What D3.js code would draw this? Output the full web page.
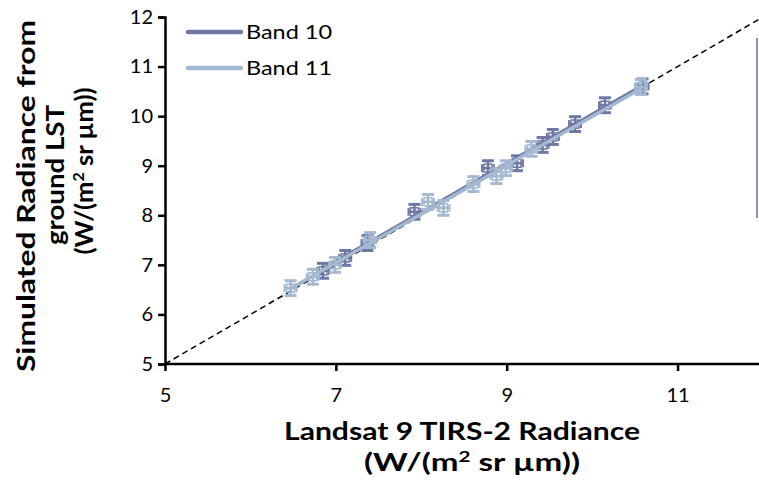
<!DOCTYPE html>
<html>
<head>
<meta charset="utf-8">
<script src="https://cdn.jsdelivr.net/npm/d3@7"></script>
<style>
  body { margin: 0; background: #fff; }
  text { font-family: Lato, "Open Sans", sans-serif; fill: #000; }
</style>
</head>
<body>
<div id="chart"></div>
<script>
// data
const band10X = [6.85, 7.11, 7.37, 7.92, 8.78, 9.12, 9.42, 9.54, 9.80, 10.15, 10.59];
const band10Y = [6.88, 7.14, 7.44, 8.07, 8.95, 9.05, 9.42, 9.58, 9.84, 10.22, 10.60];
const band11X = [6.47, 6.73, 6.99, 7.40, 8.08, 8.26, 8.61, 8.88, 8.99, 9.29, 10.57];
const band11Y = [6.53, 6.76, 7.00, 7.50, 8.27, 8.15, 8.63, 8.79, 8.95, 9.34, 10.59];
const errY = 0.15, errX = 0.07;
const xTicks = [5, 7, 9, 11];
const yTicks = [5, 6, 7, 8, 9, 10, 11, 12];
const seriesNames = ["Band 10", "Band 11"];
const seriesColors = ["#6f78a4", "#a3b8d1"];

const width = 759, height = 489;
const margin = { top: 17, right: -4, bottom: 125, left: 165 };

const svg = d3.select("#chart").append("svg")
    .attr("width", width)
    .attr("height", height);

const x = d3.scaleLinear().domain([5, 12]).range([margin.left, width - margin.right]);
const y = d3.scaleLinear().domain([5, 12]).range([height - margin.bottom, margin.top]);

// 1:1 line
svg.append("line")
    .attr("x1", x(5)).attr("y1", y(5))
    .attr("x2", x(12)).attr("y2", y(12))
    .attr("stroke", "#000")
    .attr("stroke-width", 1.5)
    .attr("stroke-dasharray", "6,4");

// stray bar at the right edge
svg.append("line")
    .attr("x1", 757).attr("x2", 757)
    .attr("y1", 38).attr("y2", 218)
    .attr("stroke", "#8a91bd")
    .attr("stroke-width", 2);

const series = [
    { name: seriesNames[0], color: seriesColors[0], pts: band10X.map((v, i) => [v, band10Y[i]]) },
    { name: seriesNames[1], color: seriesColors[1], pts: band11X.map((v, i) => [v, band11Y[i]]) }
];

// least squares fit
function fit(pts) {
    const mx = d3.mean(pts, d => d[0]), my = d3.mean(pts, d => d[1]);
    const b = d3.sum(pts, d => (d[0] - mx) * (d[1] - my)) / d3.sum(pts, d => (d[0] - mx) ** 2);
    return v => my + b * (v - mx);
}

series.forEach(s => {
    const g = svg.append("g");
    const pts = g.selectAll("g.pt").data(s.pts).enter().append("g").attr("class", "pt");

    // vertical error bars
    pts.append("line")
        .attr("x1", d => x(d[0])).attr("x2", d => x(d[0]))
        .attr("y1", d => y(d[1] - errY)).attr("y2", d => y(d[1] + errY))
        .attr("stroke", s.color).attr("stroke-width", 2.5);
    [-errY, errY].forEach(e => {
        pts.append("line")
            .attr("x1", d => x(d[0]) - 6).attr("x2", d => x(d[0]) + 6)
            .attr("y1", d => y(d[1] + e)).attr("y2", d => y(d[1] + e))
            .attr("stroke", s.color).attr("stroke-width", 3);
    });
    // horizontal error bars
    pts.append("line")
        .attr("x1", d => x(d[0] - errX)).attr("x2", d => x(d[0] + errX))
        .attr("y1", d => y(d[1])).attr("y2", d => y(d[1]))
        .attr("stroke", s.color).attr("stroke-width", 2.5);
    [-errX, errX].forEach(e => {
        pts.append("line")
            .attr("x1", d => x(d[0] + e)).attr("x2", d => x(d[0] + e))
            .attr("y1", d => y(d[1]) - 4).attr("y2", d => y(d[1]) + 4)
            .attr("stroke", s.color).attr("stroke-width", 2);
    });
    // open square markers
    pts.append("rect")
        .attr("x", d => x(d[0]) - 4).attr("y", d => y(d[1]) - 4)
        .attr("width", 8).attr("height", 8)
        .attr("fill", "none").attr("stroke", s.color).attr("stroke-width", 1.5);

    // trend line
    const f = fit(s.pts);
    const ext = d3.extent(s.pts, d => d[0]);
    g.append("line")
        .attr("x1", x(ext[0])).attr("y1", y(f(ext[0])))
        .attr("x2", x(ext[1])).attr("y2", y(f(ext[1])))
        .attr("stroke", s.color).attr("stroke-width", 3.5)
        .attr("stroke-linecap", "round");
});

// axes
const xAxis = svg.append("g")
    .attr("transform", `translate(0,${y(5)})`)
    .call(d3.axisBottom(x).tickValues(xTicks).tickSize(7).tickPadding(17).tickFormat(d3.format("d")));
xAxis.select(".domain").attr("d", `M${x(5)},0H${width}`);

const yAxis = svg.append("g")
    .attr("transform", `translate(${x(5)},0)`)
    .call(d3.axisLeft(y).tickValues(yTicks).tickSize(7).tickPadding(5).tickFormat(d3.format("d")));

[xAxis, yAxis].forEach(a => {
    a.select(".domain").attr("stroke", "#000").attr("stroke-width", 2.5);
    a.selectAll(".tick line").attr("stroke", "#000").attr("stroke-width", 2.5);
    a.selectAll(".tick text").style("font-size", "20px").style("font-family", "Lato, sans-serif");
});

// axis titles
function unitLine(sel, len) {
    sel.attr("textLength", len).attr("lengthAdjust", "spacingAndGlyphs");
    sel.append("tspan").text("(W/(m");
    sel.append("tspan").attr("dy", -9).style("font-size", "15px").text("2");
    sel.append("tspan").attr("dy", 9).text(" sr µm))");
}

const xt = svg.append("text")
    .attr("text-anchor", "middle")
    .style("font-size", "24px").style("font-weight", "bold");
xt.append("tspan").attr("x", 462).attr("y", 440)
    .attr("textLength", 356).attr("lengthAdjust", "spacingAndGlyphs")
    .text("Landsat 9 TIRS-2 Radiance");
svg.append("text")
    .attr("text-anchor", "middle")
    .attr("x", 472).attr("y", 471)
    .style("font-size", "24px").style("font-weight", "bold")
    .call(unitLine, 216);

const yTitle = (txt, cx, by, len) => svg.append("text")
    .attr("text-anchor", "middle")
    .attr("transform", "rotate(-90)")
    .attr("x", -cx).attr("y", by)
    .attr("textLength", len).attr("lengthAdjust", "spacingAndGlyphs")
    .style("font-size", "24px").style("font-weight", "bold")
    .text(txt);
yTitle("Simulated Radiance from", 196, 35, 352);
yTitle("ground LST", 175, 64, 140);
svg.append("text")
    .attr("text-anchor", "middle")
    .attr("transform", "rotate(-90)")
    .attr("x", -171).attr("y", 93)
    .style("font-size", "24px").style("font-weight", "bold")
    .call(unitLine, 167);

// legend
const legend = svg.append("g");
series.forEach((s, i) => {
    const ly = 32 + i * 36;
    legend.append("line")
        .attr("x1", 188).attr("x2", 241)
        .attr("y1", ly).attr("y2", ly)
        .attr("stroke", s.color).attr("stroke-width", 4.5)
        .attr("stroke-linecap", "round");
    legend.append("text")
        .attr("x", 246).attr("y", ly + 7)
        .attr("textLength", 86).attr("lengthAdjust", "spacingAndGlyphs")
        .style("font-size", "20px")
        .text(s.name);
});
</script>
</body>
</html>
